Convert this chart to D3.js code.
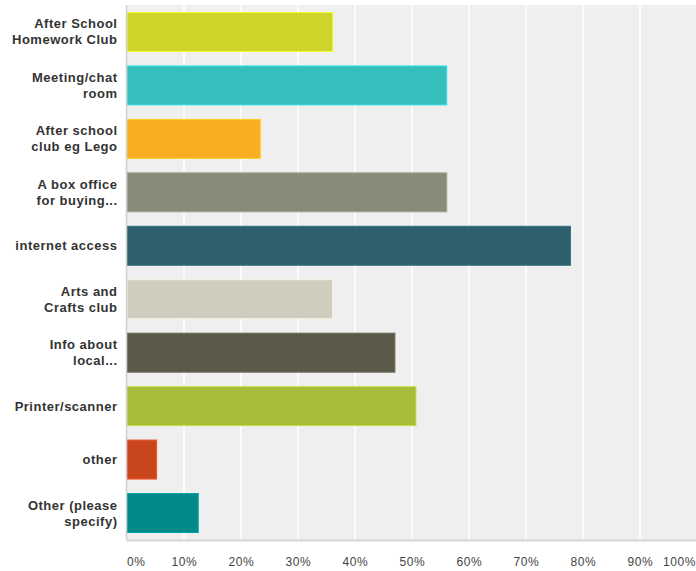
<!DOCTYPE html>
<html>
<head>
<meta charset="utf-8">
<script src="https://cdn.jsdelivr.net/npm/d3@7"></script>
<style>
  body { margin: 0; background: #fff; }
  svg { display: block; font-family: "Liberation Sans", Arial, sans-serif; }
</style>
</head>
<body>
<div id="chart"></div>
<script>
// answer choices (each label split into lines)
var categories = [
    ["After School", "Homework Club"],
    ["Meeting/chat", "room"],
    ["After school", "club eg Lego"],
    ["A box office", "for buying..."],
    ["internet access"],
    ["Arts and", "Crafts club"],
    ["Info about", "local..."],
    ["Printer/scanner"],
    ["other"],
    ["Other (please", "specify)"]
];
var values = [36.1, 56.1, 23.4, 56.1, 77.8, 36.1, 47.0, 50.7, 5.2, 12.5];
var colors = ["#cfd42a", "#34bebe", "#f7ae22", "#898a79", "#2e5f6c",
              "#d0cdbf", "#5b5a4a", "#a8bb3a", "#c9461d", "#008a8a"];
var ticks = [0, 10, 20, 30, 40, 50, 60, 70, 80, 90, 100];

var width = 696, height = 571;
var margin = { top: 5, right: -1, bottom: 31, left: 127 };

var svg = d3.select('#chart').append('svg')
    .attr('width', width)
    .attr('height', height);

var x = d3.scaleLinear()
    .domain([0, 100])
    .range([margin.left, width - margin.right]);

var y = d3.scaleBand()
    .domain(d3.range(categories.length))
    .range([margin.top, height - margin.bottom])
    .paddingInner(0.27)
    .paddingOuter(0.14);

// plot background
svg.append('rect')
    .attr('x', margin.left)
    .attr('y', margin.top)
    .attr('width', x(100) - x(0))
    .attr('height', height - margin.bottom - margin.top)
    .attr('fill', '#efefef');

// vertical gridlines
svg.selectAll('line.grid')
    .data(ticks.slice(1))
    .enter().append('line')
    .attr('class', 'grid')
    .attr('x1', function (d) { return x(d); })
    .attr('x2', function (d) { return x(d); })
    .attr('y1', margin.top)
    .attr('y2', height - margin.bottom)
    .attr('stroke', '#fff')
    .attr('stroke-width', 1.5);

// bars
svg.selectAll('rect.bar')
    .data(values).enter()
    .append('rect')
    .attr('class', 'bar')
    .attr('x', x(0))
    .attr('y', function (d, i) { return y(i); })
    .attr('width', function (d) { return x(d) - x(0); })
    .attr('height', y.bandwidth())
    .attr('fill', function (d, i) { return colors[i]; })
    .attr('stroke', function (d, i) { return d3.color(colors[i]).brighter(0.5); })
    .attr('stroke-width', 1);

// axes lines
svg.append('line')
    .attr('x1', margin.left).attr('x2', width)
    .attr('y1', height - margin.bottom + 0.5).attr('y2', height - margin.bottom + 0.5)
    .attr('stroke', '#d6d6d6').attr('stroke-width', 2);
svg.append('line')
    .attr('x1', margin.left - 0.5).attr('x2', margin.left - 0.5)
    .attr('y1', margin.top).attr('y2', height - margin.bottom)
    .attr('stroke', '#d0d0d0').attr('stroke-width', 1.5);

// tick labels
svg.selectAll('text.tick')
    .data(ticks).enter()
    .append('text')
    .attr('class', 'tick')
    .attr('x', function (d) { return d === 0 ? x(d) : (d === 100 ? width : x(d) + 0.3); })
    .attr('y', 566)
    .attr('text-anchor', function (d) { return d === 0 ? 'start' : (d === 100 ? 'end' : 'middle'); })
    .attr('font-size', 12)
    .attr('letter-spacing', 0.6)
    .attr('fill', '#444')
    .text(function (d) { return d + '%'; });

// category labels
var labels = svg.selectAll('text.cat')
    .data(categories).enter()
    .append('text')
    .attr('class', 'cat')
    .attr('text-anchor', 'end')
    .attr('font-size', 13)
    .attr('font-weight', 'bold')
    .attr('letter-spacing', 0.5)
    .attr('fill', '#333');

labels.each(function (lines, i) {
    var cy = y(i) + y.bandwidth() / 2;
    var first = cy - (lines.length - 1) * 8 + 4.5;
    d3.select(this).selectAll('tspan')
        .data(lines).enter()
        .append('tspan')
        .attr('x', 117.5)
        .attr('y', function (d, j) { return first + j * 16; })
        .text(function (d) { return d; });
});
</script>
</body>
</html>
